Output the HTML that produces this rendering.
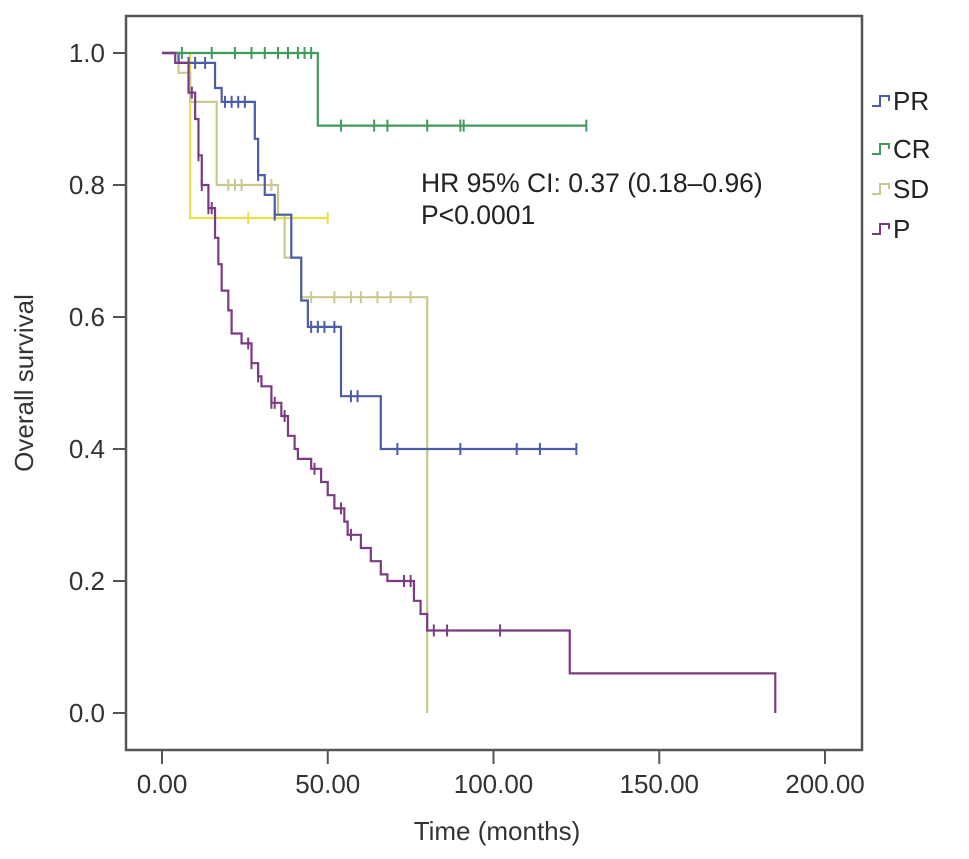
<!DOCTYPE html>
<html><head><meta charset="utf-8"><style>
body{margin:0;background:#fff;}
svg{display:block;font-family:"Liberation Sans",sans-serif;}
</style></head><body>
<svg id="chart" width="969" height="859" viewBox="0 0 969 859">
<rect x="126" y="16" width="736" height="734" fill="none" stroke="#555" stroke-width="2.5"/>
<g id="axes"></g>
<g id="series"></g>
<text x="421" y="192" font-size="26.5" fill="#222">HR 95% CI: 0.37 (0.18–0.96)</text>
<text x="421" y="224" font-size="26.5" fill="#222">P&lt;0.0001</text>
<text x="497" y="840" font-size="26" fill="#333" text-anchor="middle">Time (months)</text>
<text transform="translate(33,383) rotate(-90)" font-size="26" fill="#333" text-anchor="middle">Overall survival</text>
<g id="legend"></g>
</svg>
<script>
const xTicks=[0,50,100,150,200];
const xTickLabels=["0.00","50.00","100.00","150.00","200.00"];
const yTicks=[0,0.2,0.4,0.6,0.8,1.0];
const yTickLabels=["0.0","0.2","0.4","0.6","0.8","1.0"];
const seriesNames=["PR","CR","SD","P","SD2"];
const seriesColors=["#4b5ca8","#3f9a5c","#c9c98f","#7b3b82","#e8e048"];
const prTimes=[0,5,16,18,28,29,31,34,39,42,44,54,66,125];
const prSurv=[1,0.985,0.947,0.926,0.87,0.815,0.785,0.755,0.69,0.625,0.585,0.48,0.40,0.40];
const prCensor=[8,10,13,19,21,23,25,29,34,45,47,49,52,57,59,71,90,107,114,125];
const crTimes=[0,47,128];
const crSurv=[1,0.89,0.89];
const crCensor=[6,15,22,27,31,35,38,41,43,45,54,64,68,80,90,91,128];
const sdTimes=[0,5,8.5,16.5,35,37,42,80,80];
const sdSurv=[1,0.97,0.926,0.80,0.755,0.69,0.63,0.63,0];
const sdCensor=[20,22,24,33,45,52,57,60,65,69,75];
const sd2Times=[0,8.5,50];
const sd2Surv=[1,0.75,0.75];
const sd2Censor=[26,50];
const pTimes=[0,4,8,10,11,12,14,16,17,18,20,21,24,27,29,30,33,36,38,40,41,45,48,50,52,55,56,60,63,66,68,70,76,78,80,123,185,185];
const pSurv=[1,0.985,0.94,0.90,0.845,0.80,0.765,0.72,0.68,0.64,0.61,0.575,0.56,0.53,0.51,0.495,0.47,0.45,0.42,0.40,0.385,0.37,0.35,0.33,0.31,0.29,0.27,0.25,0.23,0.21,0.2,0.2,0.17,0.15,0.125,0.06,0.06,0];
const pCensor=[9,11,12,14,15,26,27,29,33,34,37,46,54,57,73,75,82,86,102];
const allTimes=[prTimes,crTimes,sdTimes,pTimes,sd2Times];
const allSurv=[prSurv,crSurv,sdSurv,pSurv,sd2Surv];
const allCensor=[prCensor,crCensor,sdCensor,pCensor,sd2Censor];

const X=t=>162+t*3.315;
const Y=s=>713-s*660;
const NS="http://www.w3.org/2000/svg";
function mk(tag,attrs,parent){const e=document.createElementNS(NS,tag);for(const k in attrs)e.setAttribute(k,attrs[k]);parent.appendChild(e);return e;}
const axes=document.getElementById('axes');
xTicks.forEach((v,i)=>{
  const l=mk('line',{x1:X(v),x2:X(v),y1:751,y2:764,stroke:'#555','stroke-width':2},axes);
  
  
  const t=mk('text',{x:X(v),y:793,'font-size':26,fill:'#333','text-anchor':'middle'},axes);
  t.textContent=xTickLabels[i];
  
  
});
yTicks.forEach((v,i)=>{
  const l=mk('line',{x1:113,x2:125,y1:Y(v),y2:Y(v),stroke:'#555','stroke-width':2},axes);
  
  
  const t=mk('text',{x:105,y:Y(v)+9,'font-size':26,fill:'#333','text-anchor':'end'},axes);
  t.textContent=yTickLabels[i];
  
  
});
function survAt(ts,ss,t){let s=ss[0];for(let i=0;i<ts.length;i++){if(ts[i]<=t)s=ss[i];}return s;}
const sg=document.getElementById('series');
[4,2,0,1,3].forEach(k=>{
  const ts=allTimes[k],ss=allSurv[k];
  let d='M'+X(ts[0])+','+Y(ss[0]);
  for(let i=1;i<ts.length;i++){d+=' H'+X(ts[i])+' V'+Y(ss[i]);}
  const p=mk('path',{d:d,fill:'none',stroke:seriesColors[k],'stroke-width':2.2},sg);
  
  
  allCensor[k].forEach(c=>{
    const s=survAt(ts,ss,c);
    const m=mk('line',{x1:X(c),x2:X(c),y1:Y(s)-6,y2:Y(s)+6,stroke:seriesColors[k],'stroke-width':2},sg);
    
    
  });
});
const lg=document.getElementById('legend');
const legendY=[101,149,189,229];
[0,1,2,3].forEach((k,i)=>{
  const y=legendY[i];
  const ic=mk('path',{d:`M872,${y+5} H880 V${y-5} H889 V${y}`,fill:'none',stroke:seriesColors[k],'stroke-width':2},lg);
  
  
  const t=mk('text',{x:893,y:y+9,'font-size':26,fill:'#222'},lg);
  t.textContent=seriesNames[k];
  
  
});
</script>
</body></html>
